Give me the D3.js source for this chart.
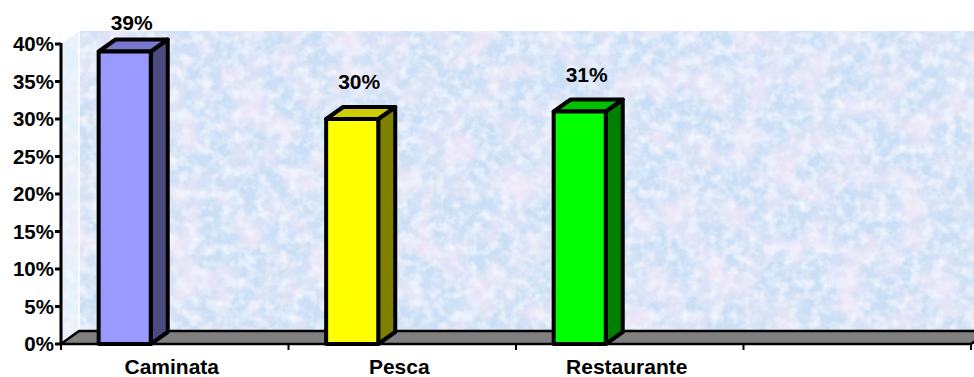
<!DOCTYPE html>
<html>
<head>
<meta charset="utf-8">
<script src="https://cdn.jsdelivr.net/npm/d3@7/dist/d3.min.js"></script>
<style>
  html, body { margin: 0; padding: 0; background: #fff; }
  svg { display: block; }
  text { font-family: "Liberation Sans", Arial, sans-serif; font-weight: bold; fill: #000; }
</style>
</head>
<body>
<svg id="chart" width="974" height="377"></svg>
<script>
// Activity shares
const categories = ["Caminata", "Pesca", "Restaurante", ""];
const values = [0.39, 0.30, 0.31];
const frontColors = ["#9999FF", "#FFFF00", "#00FF00"];
const topColors = ["#7777CC", "#CCCC00", "#00C000"];
const sideColors = ["#4B4B80", "#808000", "#008000"];
const yTicks = [0, 0.05, 0.10, 0.15, 0.20, 0.25, 0.30, 0.35, 0.40];

(function () {
const svg = d3.select("#chart");
const W = 974;

// plot frame (front plane) and 3D depth offsets
const pLeft = 61, pRight = 971, pBottom = 344, pTop = 44;
const depthX = 18, depthY = -13;      // wall / floor depth
const barDX = 17, barDY = -12;        // column depth

const x = d3.scaleBand().domain(categories).range([pLeft, pRight]).padding(0);
const y = d3.scaleLinear().domain([0, 0.40]).range([pBottom, pTop]);

// textured wall fill: soft blue base with lavender/pink clouds and faint grain
const defs = svg.append("defs");
const f = defs.append("filter").attr("id", "mottle")
  .attr("x", 0).attr("y", 0).attr("width", 1).attr("height", 1);
f.append("feTurbulence").attr("type", "fractalNoise")
  .attr("baseFrequency", "0.03").attr("numOctaves", 4).attr("seed", 7).attr("result", "n1");
f.append("feColorMatrix").attr("in", "n1").attr("type", "matrix")
  .attr("values", "0 0 0 0 0.86  0 0 0 0 0.80  0 0 0 0 0.93  2.6 0 0 0 -1.05")
  .attr("result", "pink");
f.append("feTurbulence").attr("type", "fractalNoise")
  .attr("baseFrequency", "0.09").attr("numOctaves", 3).attr("seed", 3).attr("result", "n2");
f.append("feColorMatrix").attr("in", "n2").attr("type", "matrix")
  .attr("values", "0 0 0 0 0.89  0 0 0 0 0.92  0 0 0 0 0.99  0 2.2 0 0 -0.9")
  .attr("result", "grain");
f.append("feTurbulence").attr("type", "fractalNoise")
  .attr("baseFrequency", "0.11").attr("numOctaves", 2).attr("seed", 11).attr("result", "n3");
f.append("feColorMatrix").attr("in", "n3").attr("type", "matrix")
  .attr("values", "0 0 0 0 0.76  0 0 0 0 0.88  0 0 0 0 0.97  0 0 1.8 0 -0.95")
  .attr("result", "blue");
const merge = f.append("feMerge").attr("result", "merged");
merge.append("feMergeNode").attr("in", "SourceGraphic");
merge.append("feMergeNode").attr("in", "blue");
merge.append("feMergeNode").attr("in", "pink");
merge.append("feMergeNode").attr("in", "grain");
f.append("feGaussianBlur").attr("in", "merged").attr("stdDeviation", 0.6).attr("result", "soft");
f.append("feComposite").attr("in", "soft").attr("in2", "SourceGraphic").attr("operator", "in");

// back wall
svg.append("rect")
  .attr("x", pLeft + depthX).attr("y", pTop + depthY)
  .attr("width", W - (pLeft + depthX) + 20).attr("height", pBottom - pTop)
  .attr("fill", "#CADFF5").attr("filter", "url(#mottle)");

// side wall
svg.append("path")
  .attr("d", d3.line()([[pLeft, pTop], [pLeft + depthX, pTop + depthY], [pLeft + depthX, pBottom + depthY], [pLeft, pBottom]]) + "Z")
  .attr("fill", "#DCEEFB").attr("filter", "url(#mottle)").attr("opacity", 0.8);
svg.append("line")
  .attr("x1", pLeft + depthX).attr("x2", pLeft + depthX)
  .attr("y1", pTop + depthY).attr("y2", pBottom + depthY)
  .attr("stroke", "#fff").attr("stroke-width", 1.5);

// floor
svg.append("path")
  .attr("d", d3.line()([[pLeft, pBottom], [pRight, pBottom], [pRight + depthX, pBottom + depthY], [pLeft + depthX, pBottom + depthY]]) + "Z")
  .attr("fill", "#808080").attr("stroke", "#000").attr("stroke-width", 2.5)
  .attr("stroke-linejoin", "round");

// y axis
svg.append("line")
  .attr("x1", pLeft).attr("x2", pLeft).attr("y1", pBottom + 1).attr("y2", y(0.40) - 1)
  .attr("stroke", "#000").attr("stroke-width", 3);
const yg = svg.append("g");
yg.selectAll("line").data(yTicks).join("line")
  .attr("x1", pLeft - 6).attr("x2", pLeft).attr("y1", d => y(d)).attr("y2", d => y(d))
  .attr("stroke", "#000").attr("stroke-width", 3);
yg.selectAll("text").data(yTicks).join("text")
  .attr("x", 54).attr("y", d => y(d)).attr("dy", "0.36em")
  .attr("text-anchor", "end").attr("font-size", 20.5)
  .text(d => d3.format(".0%")(d));

// x axis ticks and labels
const bounds = categories.map(c => x(c)).concat([pRight]);
svg.append("g").selectAll("line").data(bounds).join("line")
  .attr("x1", d => d).attr("x2", d => d).attr("y1", pBottom).attr("y2", pBottom + 6)
  .attr("stroke", "#000").attr("stroke-width", 2);
svg.append("g").selectAll("text").data(categories).join("text")
  .attr("x", d => x(d) + x.bandwidth() / 2 - 3).attr("y", 374)
  .attr("text-anchor", "middle").attr("font-size", 21)
  .text(d => d);

// 3D columns
const bw = x.bandwidth() * 0.229;
const bOff = -x.bandwidth() * 0.22;
const bars = svg.append("g").selectAll("g").data(values).join("g");
bars.each(function (v, i) {
  const g = d3.select(this);
  const cx = x(categories[i]) + x.bandwidth() / 2 + bOff;
  const x0 = cx - bw / 2, x1 = cx + bw / 2, yt = y(v), yb = y(0);
  const line = d3.line();
  const common = s => s.attr("stroke", "#000").attr("stroke-width", 4).attr("stroke-linejoin", "round");
  g.append("path").attr("d", line([[x1, yt], [x1 + barDX, yt + barDY], [x1 + barDX, yb + barDY], [x1, yb]]) + "Z")
    .attr("fill", sideColors[i]).call(common);
  g.append("path").attr("d", line([[x0, yt], [x0 + barDX, yt + barDY], [x1 + barDX, yt + barDY], [x1, yt]]) + "Z")
    .attr("fill", topColors[i]).call(common);
  g.append("rect").attr("x", x0).attr("y", yt).attr("width", bw).attr("height", yb - yt)
    .attr("fill", frontColors[i]).call(common);
  g.append("text")
    .attr("x", cx + 7).attr("y", Math.max(30, yt - 30))
    .attr("text-anchor", "middle").attr("font-size", 21)
    .text(d3.format(".0%")(v));
});
})();
</script>
</body>
</html>
